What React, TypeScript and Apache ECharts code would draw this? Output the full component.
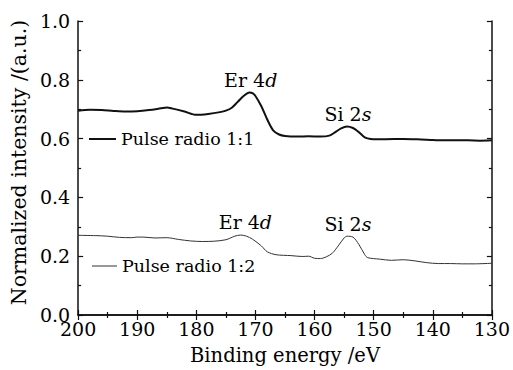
import React, { useEffect, useRef } from "react";
import * as echarts from "echarts";

const energy1 = [200, 198, 196, 194, 192, 190, 188, 186, 185, 184, 182, 180, 178, 176, 175, 174, 173, 172, 171, 170.5, 170, 169, 168, 167, 166, 165, 163, 161, 159, 157.5, 156.5, 155.5, 154.5, 153.5, 152.5, 151.5, 150.5, 148, 145, 142, 140, 138, 136, 134, 132, 130];
const intensity1 = [0.695, 0.698, 0.697, 0.694, 0.692, 0.693, 0.697, 0.703, 0.706, 0.702, 0.692, 0.681, 0.684, 0.69, 0.695, 0.705, 0.725, 0.745, 0.757, 0.755, 0.745, 0.71, 0.665, 0.628, 0.614, 0.609, 0.607, 0.608, 0.607, 0.61, 0.622, 0.635, 0.641, 0.636, 0.622, 0.604, 0.599, 0.598, 0.599, 0.597, 0.595, 0.594, 0.594, 0.594, 0.593, 0.594];

const energy2 = [200, 197, 195, 193, 191, 190, 189, 187, 185, 183, 181, 179, 177, 175, 173.5, 172.5, 171.5, 170.5, 169, 168, 166.5, 164, 162, 161, 160, 159, 158, 157, 156, 155, 154.5, 153.5, 152.5, 151.5, 151, 149, 147, 145, 143, 141, 139, 137, 135, 133, 130];
const intensity2 = [0.271, 0.27, 0.268, 0.264, 0.263, 0.265, 0.265, 0.262, 0.263, 0.257, 0.252, 0.25, 0.251, 0.256, 0.268, 0.272, 0.268, 0.258, 0.235, 0.215, 0.205, 0.202, 0.199, 0.2, 0.193, 0.192, 0.198, 0.21, 0.235, 0.262, 0.268, 0.265, 0.24, 0.205, 0.195, 0.19, 0.186, 0.188, 0.184, 0.178, 0.175, 0.175, 0.174, 0.174, 0.176];

const seriesNames = ["Pulse radio 1:1", "Pulse radio 1:2"];
const xTicks = { min: 130, max: 200, interval: 10 };
const yTicks = { min: 0, max: 1, interval: 0.2 };

const annotations1 = [
  { coord: [170.8, 0.801], main: "Er 4", it: "d" },
  { coord: [154.35, 0.685], main: "Si 2", it: "s" },
];
const annotations2 = [
  { coord: [171.7, 0.315], main: "Er 4", it: "d" },
  { coord: [154.35, 0.311], main: "Si 2", it: "s" },
];

const FONT = "DejaVu Serif";

function toPairs(xs: number[], ys: number[]) {
  return xs.map((x, i) => [x, ys[i]]);
}

function markPts(list: { coord: number[]; main: string; it: string }[]) {
  return {
    symbol: "rect",
    symbolSize: 0,
    silent: true,
    label: {
      show: true,
      position: "inside",
      formatter: (p: any) => `{n|${p.data.main}}{i|${p.data.it}}`,
      rich: {
        n: { fontFamily: FONT, fontSize: 19, color: "#000" },
        i: { fontFamily: FONT, fontSize: 19, fontStyle: "italic", color: "#000" },
      },
    },
    data: list.map((a) => ({ coord: a.coord, main: a.main, it: a.it, value: 0 })),
  };
}

export default function App() {
  const ref = useRef<HTMLDivElement>(null);
  useEffect(() => {
    if (!ref.current) return;
    const chart = echarts.init(ref.current, null, { renderer: "svg" });
    const axisLine = { show: true, lineStyle: { color: "#111", width: 1.5 } };
    const tick = { show: true, inside: true, length: 5, lineStyle: { color: "#111", width: 1.2 } };
    const minor = { show: true, splitNumber: 2, length: 3, lineStyle: { color: "#111", width: 1.2 } };
    const labelStyle = { fontFamily: FONT, fontSize: 19, color: "#000" };
    const nameStyle = { fontFamily: FONT, fontSize: 19.5, color: "#000" };
    const legendText = { fontFamily: FONT, fontSize: 17.5, color: "#000", lineHeight: 20 };
    chart.setOption({
      animation: false,
      backgroundColor: "#fff",
      grid: { left: 72, right: 17, top: 21, bottom: 52 },
      legend: [
        {
          data: [{ name: seriesNames[0], icon: "rect" }],
          left: 89,
          top: 129,
          padding: 0,
          itemWidth: 27,
          itemHeight: 2,
          textStyle: legendText,
        },
        {
          data: [{ name: seriesNames[1], icon: "rect" }],
          left: 92,
          top: 256,
          padding: 0,
          itemWidth: 25,
          itemHeight: 1,
          textStyle: legendText,
        },
      ],
      xAxis: [
        {
          type: "value",
          position: "bottom",
          inverse: true,
          ...xTicks,
          axisLine,
          axisTick: tick,
          minorTick: minor,
          splitLine: { show: false },
          axisLabel: { ...labelStyle, margin: 4 },
          name: "Binding energy /eV",
          nameLocation: "middle",
          nameGap: 30,
          nameTextStyle: nameStyle,
        },
        {
          type: "value",
          position: "top",
          inverse: true,
          ...xTicks,
          axisLine,
          axisTick: tick,
          minorTick: minor,
          splitLine: { show: false },
          axisLabel: { show: false },
        },
      ],
      yAxis: [
        {
          type: "value",
          position: "left",
          ...yTicks,
          axisLine,
          axisTick: tick,
          minorTick: minor,
          splitLine: { show: false },
          axisLabel: { ...labelStyle, margin: 8, formatter: (v: number) => v.toFixed(1) },
          name: "Normalized intensity /(a.u.)",
          nameLocation: "middle",
          nameGap: 42,
          nameTextStyle: { ...nameStyle, fontSize: 20.5, padding: [0, 0, 0, 11] },
        },
        {
          type: "value",
          position: "right",
          ...yTicks,
          axisLine,
          axisTick: tick,
          minorTick: minor,
          splitLine: { show: false },
          axisLabel: { show: false },
        },
      ],
      series: [
        {
          name: seriesNames[0],
          type: "line",
          data: toPairs(energy1, intensity1),
          showSymbol: false,
          symbol: "none",
          smooth: 0.3,
          lineStyle: { color: "#111", width: 2 },
          itemStyle: { color: "#111" },
          markPoint: markPts(annotations1),
        },
        {
          name: seriesNames[1],
          type: "line",
          data: toPairs(energy2, intensity2),
          showSymbol: false,
          symbol: "none",
          smooth: 0.3,
          lineStyle: { color: "#333", width: 1 },
          itemStyle: { color: "#333" },
          markPoint: markPts(annotations2),
        },
      ],
    });
    return () => chart.dispose();
  }, []);
  return <div ref={ref} style={{ width: 513, height: 370, position: "absolute", left: 0, top: 0 }} />;
}
